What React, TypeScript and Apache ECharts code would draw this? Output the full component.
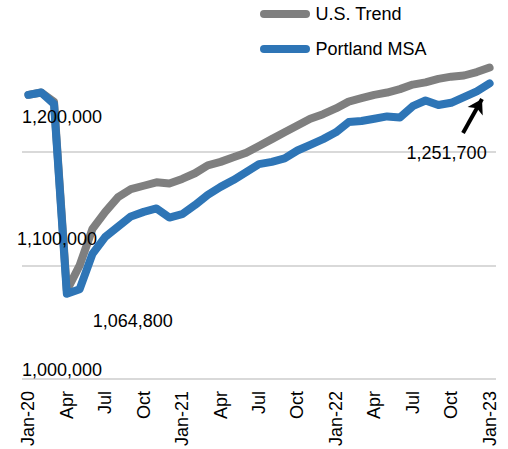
import React, { useEffect, useRef } from "react";
import * as echarts from "echarts";

const categories = [
  "Jan-20", "Feb", "Mar", "Apr", "May", "Jun", "Jul", "Aug", "Sep", "Oct", "Nov", "Dec",
  "Jan-21", "Feb", "Mar", "Apr", "May", "Jun", "Jul", "Aug", "Sep", "Oct", "Nov", "Dec",
  "Jan-22", "Feb", "Mar", "Apr", "May", "Jun", "Jul", "Aug", "Sep", "Oct", "Nov", "Dec",
  "Jan-23",
];

const usTrend = [
  1250000, 1252000, 1244000, 1078000, 1100000, 1132000, 1147000, 1160000, 1167000, 1170000,
  1173000, 1172000, 1176000, 1181000, 1188000, 1191000, 1195000, 1199000, 1205000, 1211000,
  1217000, 1223000, 1229000, 1233000, 1238000, 1244000, 1247000, 1250000, 1252000, 1255000,
  1259000, 1261000, 1264000, 1266000, 1267000, 1270000, 1274000,
];

const portland = [
  1250000, 1252000, 1242000, 1075000, 1079000, 1110000, 1125000, 1134000, 1143000, 1147000,
  1150000, 1142000, 1145000, 1153000, 1162000, 1169000, 1175000, 1182000, 1189000, 1191000,
  1194000, 1201000, 1206000, 1211000, 1217000, 1226000, 1227000, 1229000, 1231000, 1230000,
  1240000, 1245000, 1241000, 1243000, 1248000, 1253000, 1260000,
];

const yTicks = [1000000, 1100000, 1200000];
const yTickLabels = ["1,000,000", "1,100,000", "1,200,000"];

const seriesNames = ["U.S. Trend", "Portland MSA"];
const seriesColors = ["#7f7f7f", "#2e75b6"];

const annotationLow = { index: 3, text: "1,064,800" };
const annotationEnd = { index: 36, text: "1,251,700" };

const FONT = "'Liberation Sans', Arial, sans-serif";
const PILL = "path://M4,0 L46,0 A4,4 0 0 1 46,8 L4,8 A4,4 0 0 1 4,0 Z";

export default function App() {
  const ref = useRef<HTMLDivElement>(null);

  useEffect(() => {
    if (!ref.current) return;
    const chart = echarts.init(ref.current, null, { renderer: "svg" });

    const lineSeries = (i: number, data: number[], extra: any = {}) => ({
      name: seriesNames[i],
      type: "line",
      data,
      symbol: "none",
      smooth: false,
      z: 2 + i,
      lineStyle: { color: seriesColors[i], width: 8, cap: "round", join: "round" },
      itemStyle: { color: seriesColors[i] },
      ...extra,
    });

    const yBase = {
      type: "value",
      min: 1000000,
      max: 1300000,
      interval: 100000,
      axisLine: { show: false },
      axisTick: { show: false },
    };

    chart.setOption({
      animation: false,
      textStyle: { fontFamily: FONT },
      legend: {
        orient: "vertical",
        left: 260,
        top: 5,
        padding: 0,
        itemWidth: 51,
        itemHeight: 8,
        itemGap: 17,
        icon: PILL,
        textStyle: { fontSize: 18, color: "#000", fontFamily: FONT },
        data: seriesNames,
      },
      grid: { left: 22, right: 12, top: 38, bottom: 69 },
      xAxis: {
        type: "category",
        data: categories,
        boundaryGap: true,
        axisLine: { show: false },
        axisTick: { show: false },
        axisLabel: {
          interval: 2,
          rotate: 90,
          margin: 12,
          fontSize: 18,
          color: "#000",
          fontFamily: FONT,
        },
      },
      yAxis: [
        {
          ...yBase,
          z: 0,
          splitLine: {
            show: true,
            lineStyle: { color: ["#d9d9d9", "#d9d9d9", "#d9d9d9", "rgba(0,0,0,0)"], width: 2 },
          },
          axisLabel: { show: false },
        },
        {
          ...yBase,
          position: "left",
          z: 20,
          splitLine: { show: false },
          axisLabel: {
            inside: true,
            margin: -5,
            verticalAlign: "bottom",
            align: "left",
            fontSize: 18,
            color: "#000",
            fontFamily: FONT,
            formatter: (v: number) => {
              const i = yTicks.indexOf(v);
              return i < 0 ? "" : `{l${i}|${yTickLabels[i]}}`;
            },
            rich: {
              l0: { fontSize: 18, color: "#000", fontFamily: FONT, padding: [0, 0, 0, 5] },
              l1: { fontSize: 18, color: "#000", fontFamily: FONT, padding: [0, 0, 17, 0] },
              l2: { fontSize: 18, color: "#000", fontFamily: FONT, padding: [0, 0, 26, 5] },
            },
          },
        },
      ],
      series: [
        lineSeries(0, usTrend),
        lineSeries(1, portland, {
          markPoint: {
            symbol: "circle",
            symbolSize: 0,
            silent: true,
            data: [
              {
                coord: [annotationLow.index, portland[annotationLow.index]],
                label: {
                  show: true,
                  formatter: annotationLow.text,
                  offset: [66, 27],
                  fontSize: 18,
                  color: "#000",
                  fontFamily: FONT,
                },
              },
              {
                coord: [annotationEnd.index, portland[annotationEnd.index]],
                label: {
                  show: true,
                  formatter: annotationEnd.text,
                  offset: [-43, 70],
                  fontSize: 18,
                  color: "#000",
                  fontFamily: FONT,
                },
              },
            ],
          },
          markLine: {
            silent: true,
            symbol: ["none", "arrow"],
            symbolSize: [13, 14],
            label: { show: false },
            lineStyle: { color: "#000", width: 4, type: "solid" },
            data: [[{ x: 463, y: 133 }, { x: 482, y: 99 }]],
          },
        }),
      ],
    });

    return () => chart.dispose();
  }, []);

  return (
    <div
      ref={ref}
      style={{ position: "fixed", left: 0, top: 0, width: 508, height: 449, background: "#fff" }}
    />
  );
}
